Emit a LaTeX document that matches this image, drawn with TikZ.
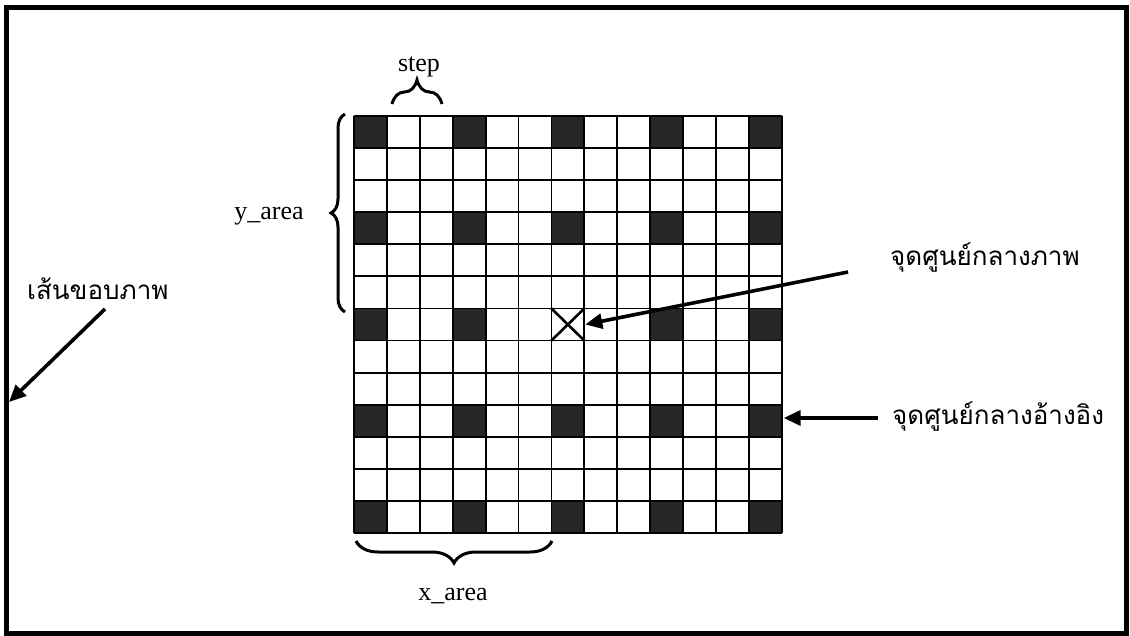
\documentclass[tikz,border=0pt]{standalone}
\usepackage{fontspec}
\setmainfont{Liberation Serif}
\newfontfamily\thaifont[Script=Thai]{Loma}
\usetikzlibrary{arrows.meta,decorations.pathreplacing}
\begin{document}
\begin{tikzpicture}[x=1pt,y=-1pt,
  gridline/.style={line width=1.8pt},
  darkcell/.style={fill=black!85},
  arr/.style={line width=3.6pt,-{Triangle[length=17pt,width=15pt]}},
  bigbrace/.style={decorate,line width=3pt},
  latinlab/.style={font=\fontsize{26}{30}\selectfont,inner sep=0pt},
  thailab/.style={font=\thaifont\fontsize{26}{32}\selectfont,inner sep=0pt}]
\useasboundingbox (0,0) rectangle (1130,636);
\fill[white] (0,0) rectangle (1130,636);
\draw[line width=5pt] (6.5,7.5) rectangle (1126,633);
\def\cw{32.9}
\def\ch{32.08}
% dark reference cells
\foreach \i in {0,3,6,9,12}{
  \foreach \j in {0,3,6,9,12}{
    \pgfmathtruncatemacro{\skipit}{(\i==6)&&(\j==6)}
    \ifnum\skipit=0
      \fill[darkcell] (354+\i*\cw,116+\j*\ch) rectangle ++(\cw,\ch);
    \fi
  }
}
% grid lines
\foreach \k in {0,...,13}{
  \draw[gridline] (354+\k*\cw,116) -- (354+\k*\cw,116+13*\ch);
  \draw[gridline] (354,116+\k*\ch) -- (354+13*\cw,116+\k*\ch);
}
% centre cross
\coordinate (xtl) at (354+6*\cw,116+6*\ch);
\coordinate (xbr) at (354+7*\cw,116+7*\ch);
\coordinate (xtr) at (354+7*\cw,116+6*\ch);
\coordinate (xbl) at (354+6*\cw,116+7*\ch);
\draw[line width=2.6pt] (xtl) -- (xbr) (xtr) -- (xbl);
\coordinate (xc) at (354+7*\cw+1,116+6.5*\ch);
\coordinate (refc) at (354+13*\cw+2,418);
\coordinate (frame) at (9,402);
% braces
\draw[bigbrace,decoration={brace,amplitude=24pt,aspect=0.5}] (392,104) -- (442,104);
\draw[bigbrace,decoration={brace,amplitude=14pt}] (345,312) -- (345,114);
\draw[bigbrace,decoration={brace,amplitude=22pt}] (552,541) -- (356,541);
% labels
\node[latinlab,anchor=base] (steplab) at (419,72) {step};
\node[latinlab,anchor=base] (ylab) at (269,220) {y\_area};
\node[latinlab,anchor=base] (xlab) at (453,600) {x\_area};
\node[thailab,anchor=base west] (framelab) at (27,300) {เส้นขอบภาพ};
\node[thailab,anchor=base west] (centrelab) at (890,266) {จุดศูนย์กลางภาพ};
\node[thailab,anchor=base west] (reflab) at (892,424) {จุดศูนย์กลางอ้างอิง};
% arrows
\coordinate (t1) at (105,309);
\coordinate (t2) at (848,272);
\coordinate (t3) at (878,418);
\draw[arr] (t1) -- (frame);
\draw[arr] (t2) -- (xc);
\draw[arr] (t3) -- (refc);
\end{tikzpicture}
\end{document}
